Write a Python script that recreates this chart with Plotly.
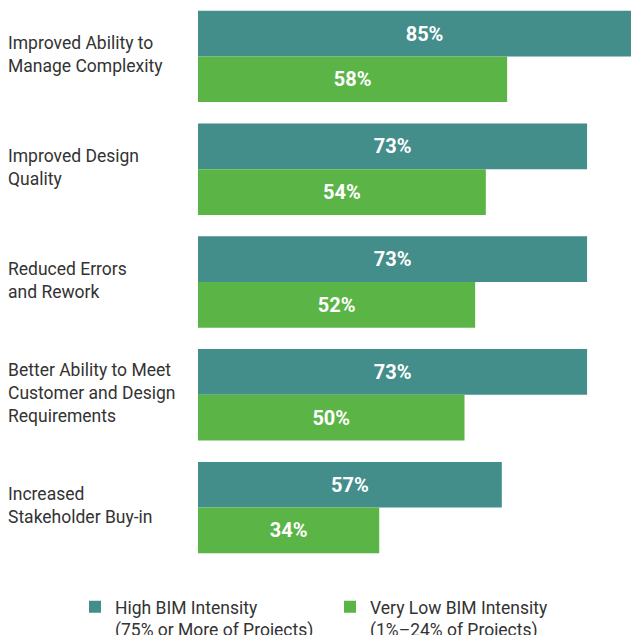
import plotly.graph_objects as go

categories = [
    "Improved Ability to<br>Manage Complexity",
    "Improved Design<br>Quality",
    "Reduced Errors<br>and Rework",
    "Better Ability to Meet<br>Customer and Design<br>Requirements",
    "Increased<br>Stakeholder Buy-in",
]
high_bim = [85, 73, 73, 73, 57]
low_bim = [58, 54, 52, 50, 34]
series_names = [
    "High BIM Intensity<br>(75% or More of Projects)",
    "Very Low BIM Intensity<br>(1%–24% of Projects)",
]

TEAL = "#438E8A"
GREEN = "#5BB446"
FONT = "Roboto"
TXT = "#333333"

fig = go.Figure()
for name, vals, col in [(series_names[0], high_bim, TEAL), (series_names[1], low_bim, GREEN)]:
    fig.add_trace(go.Bar(
        y=categories, x=vals, name=name, orientation="h",
        marker=dict(color=col, line=dict(width=0)),
        text=[f"{v}%" for v in vals], textposition="inside",
        insidetextanchor="middle",
        textfont=dict(family=FONT, size=20, color="white", weight="bold"),
        cliponaxis=True,
    ))

for c in categories:
    fig.add_annotation(
        x=-192 / 433, xref="paper", y=c, yref="y", yshift=2,
        text=c, showarrow=False, xanchor="left", yanchor="middle",
        align="left", font=dict(family=FONT, size=17.5, color=TXT),
    )

fig.update_layout(
    width=631, height=635,
    margin=dict(l=198, r=0, t=0, b=71, autoexpand=False),
    barmode="group", bargap=0.19, bargroupgap=0,
    plot_bgcolor="white", paper_bgcolor="white",
    xaxis=dict(range=[0, 433 / 5.33], visible=False, fixedrange=True),
    yaxis=dict(autorange="reversed", showticklabels=False, showgrid=False,
               zeroline=False, showline=False, ticks=""),
    showlegend=True,
    legend=dict(
        orientation="h", x=-123 / 433, xanchor="left", y=-0.044, yanchor="top",
        font=dict(family=FONT, size=17.5, color=TXT), valign="top",
        entrywidth=210, entrywidthmode="pixels", traceorder="normal",
        itemclick=False, itemdoubleclick=False,
    ),
)

fig.write_html("out.html")
